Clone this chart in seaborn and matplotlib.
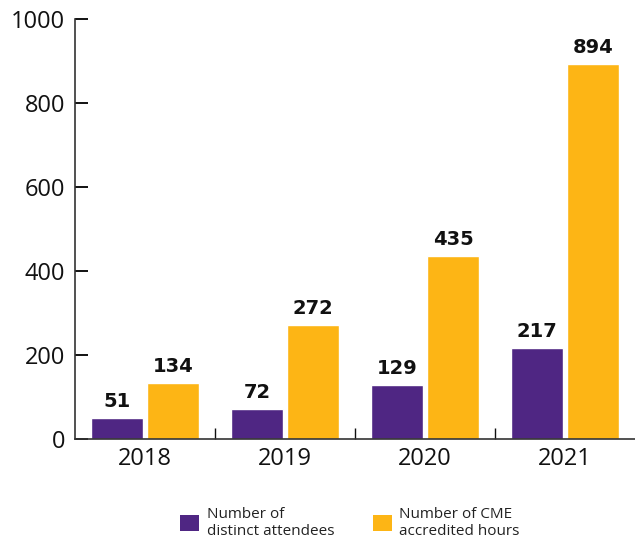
import matplotlib
matplotlib.use("Agg")
import matplotlib.pyplot as plt
from matplotlib.patches import Patch
import seaborn as sns
import pandas as pd

years = ["2018", "2019", "2020", "2021"]
attendees = [51, 72, 129, 217]
cme_hours = [134, 272, 435, 894]
series_names = ["Number of\ndistinct attendees", "Number of CME\naccredited hours"]
colors = ["#4F2683", "#FDB515"]
y_ticks = [0, 200, 400, 600, 800, 1000]

sns.set_theme(style="white")
plt.rcParams["font.family"] = ["Open Sans", "DejaVu Sans"]

df = pd.DataFrame({
    "year": years * 2,
    "value": attendees + cme_hours,
    "series": [series_names[0]] * len(years) + [series_names[1]] * len(years),
})

fig = plt.figure(figsize=(6.35, 5.4), dpi=100)
ax = fig.add_axes([75 / 635, 101 / 540, 560 / 635, 420 / 540])

sns.barplot(data=df, x="year", y="value", hue="series", palette=colors,
            hue_order=series_names, order=years, width=0.8, gap=0.08,
            saturation=1, legend=False, ax=ax)

for cont in ax.containers:
    ax.bar_label(cont, fmt="%d", padding=5, fontsize=14, fontweight="bold",
                 color="#111111", family=["DejaVu Sans"])

ax.set_xlim(-0.5, 3.5)
ax.set_ylim(0, 1000)
ax.set_yticks(y_ticks)
ax.set_xlabel("")
ax.set_ylabel("")

for side in ["top", "right"]:
    ax.spines[side].set_visible(False)
for side in ["left", "bottom"]:
    ax.spines[side].set_color("#333333")
    ax.spines[side].set_linewidth(1.2)

ax.tick_params(axis="y", direction="in", length=9, width=1.4, color="#111111",
               labelsize=17, pad=7, left=True)
ax.tick_params(axis="x", which="major", length=0, labelsize=17, pad=6)
ax.set_xticks([0.5, 1.5, 2.5], minor=True)
ax.tick_params(axis="x", which="minor", direction="in", length=8, width=1.0,
               color="#111111", bottom=True)
for lbl in ax.get_xticklabels() + ax.get_yticklabels():
    lbl.set_color("#111111")

handles = [Patch(facecolor=c, edgecolor="none") for c in colors]
fig.legend(handles, series_names, loc="center", bbox_to_anchor=(350 / 635, 17 / 540),
           ncol=2, frameon=False, fontsize=11, handlelength=1.25, handleheight=1.25,
           handletextpad=0.5, columnspacing=2.5, labelcolor="#222222")

fig.savefig("out.png", dpi=100)
